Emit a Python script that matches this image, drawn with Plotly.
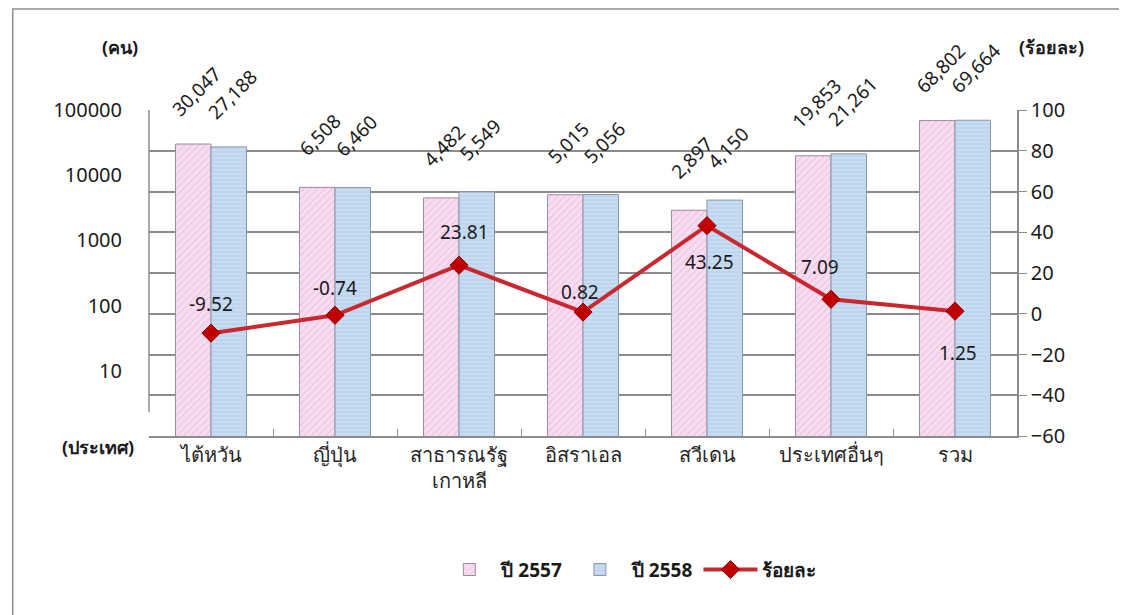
import math
import plotly.graph_objects as go

# data
countries = ["ไต้หวัน", "ญี่ปุ่น", "สาธารณรัฐ<br>เกาหลี", "อิสราเอล", "สวีเดน", "ประเทศอื่นๆ", "รวม"]
y2557 = [30047, 6508, 4482, 5015, 2897, 19853, 68802]
y2558 = [27188, 6460, 5549, 5056, 4150, 21261, 69664]
pct = [-9.52, -0.74, 23.81, 0.82, 43.25, 7.09, 1.25]
left_ticks = [10, 100, 1000, 10000, 100000]

# label offsets for the percent labels (px): (dx, dy)
pct_offsets = [(0, 29), (0, 27), (5, 33), (-3, 20), (2, -36), (-11, 32), (3, -42)]

FONT = "Noto Sans, Tahoma, sans-serif"
AXIS = "#8c8c8c"
fig = go.Figure()

fig.add_trace(go.Bar(
    x=countries, y=y2557, name="<b>ปี 2557</b>",
    marker=dict(color="#F8DDF1", line=dict(color="#9A8C9A", width=1),
                pattern=dict(shape="/", fgcolor="#E3A9D6", size=5, solidity=0.25)),
))
fig.add_trace(go.Bar(
    x=countries, y=y2558, name="<b>ปี 2558</b>",
    marker=dict(color="#C9DDF2", line=dict(color="#8A96A8", width=1),
                pattern=dict(shape="-", fgcolor="#A3C1E2", size=4, solidity=0.3)),
))
fig.add_trace(go.Scatter(
    x=countries, y=pct, name="<b>ร้อยละ</b>", yaxis="y2", mode="lines+markers",
    line=dict(color="#C8282E", width=4),
    marker=dict(symbol="diamond", size=14, color="#C00000", line=dict(color="#8B0000", width=1)),
))

# bar value labels, rotated
for i, c in enumerate(countries):
    for vals, dx in ((y2557, -15), (y2558, 21)):
        v = vals[i]
        fig.add_annotation(x=c, y=math.log10(v), yref="y", text=f"{v:,}",
                           showarrow=False, textangle=-45, xshift=dx, yshift=52,
                           font=dict(size=19, color="#1a1a1a", family=FONT))
    dx, dy = pct_offsets[i]
    fig.add_annotation(x=c, y=pct[i], yref="y2", text=f"{pct[i]:.2f}",
                       showarrow=False, xshift=dx, yshift=dy,
                       font=dict(size=19, color="#1a1a1a", family=FONT))

# axis titles
for txt, x, y in (("(คน)", -0.033, 1.193), ("(ร้อยละ)", 1.04, 1.193), ("(ประเทศ)", -0.059, -0.034)):
    fig.add_annotation(xref="paper", yref="paper", x=x, y=y, xanchor="center", yanchor="middle",
                       text=f"<b>{txt}</b>", showarrow=False,
                       font=dict(size=18, color="#1a1a1a", family=FONT))

# left axis line (stops short of the bottom)
fig.add_shape(type="line", xref="paper", yref="paper", x0=0, x1=0, y0=0.074, y1=1,
              line=dict(color=AXIS, width=1.5))

# outer frame
fig.add_shape(type="rect", xref="paper", yref="paper", x0=-0.157, x1=1.2, y0=-0.6, y1=1.31,
              line=dict(color=AXIS, width=1.5))

fig.update_layout(
    width=1127, height=615,
    margin=dict(l=141, r=118, t=102, b=187),
    plot_bgcolor="white", paper_bgcolor="white",
    barmode="group", bargap=0.427, bargroupgap=0,
    font=dict(family=FONT, size=19, color="#1a1a1a"),
    legend=dict(orientation="h", x=0.554, y=-0.41, xanchor="center", yanchor="middle",
                font=dict(size=19, family=FONT), traceorder="normal",
                itemwidth=54),
    xaxis=dict(showline=True, linecolor=AXIS, linewidth=1.5, ticks="inside",
               tickson="boundaries", ticklen=7, tickcolor=AXIS,
               tickfont=dict(size=20, color="#262626")),
    yaxis=dict(type="log", range=[0, 5], tickvals=left_ticks, ticktext=[str(t) for t in left_ticks],
               showgrid=False, showline=False, zeroline=False,
               ticks="", ticklabelstandoff=26, tickfont=dict(size=20)),
    yaxis2=dict(overlaying="y", side="right", range=[-60, 100], dtick=20,
                showgrid=True, gridcolor=AXIS, gridwidth=1.5, zeroline=False,
                showline=True, linecolor=AXIS, linewidth=1.5,
                ticks="outside", ticklen=8, tickcolor=AXIS, tickfont=dict(size=20)),
)

fig.write_html("out.html")
